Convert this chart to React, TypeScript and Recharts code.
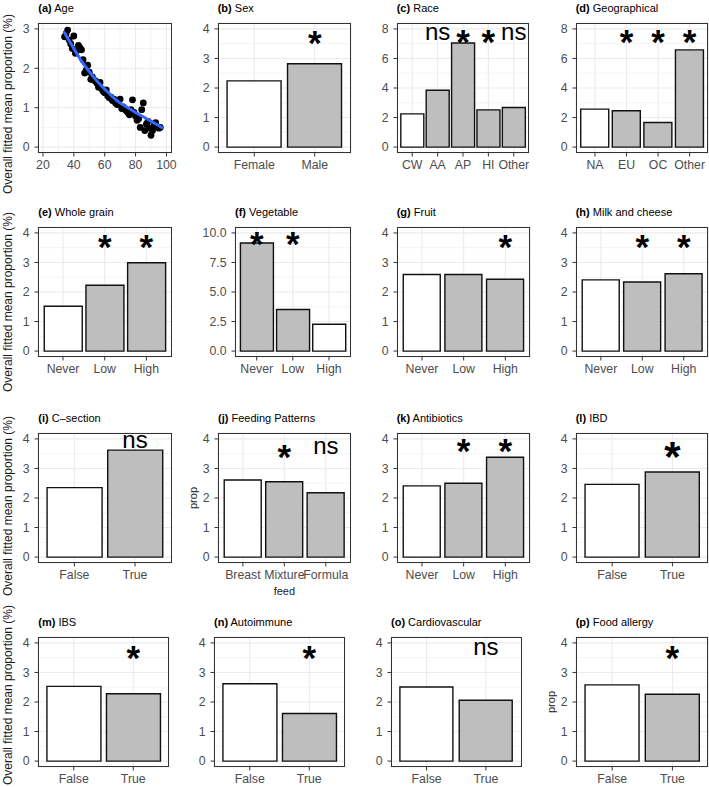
import React from "react";
import { ComposedChart, Bar, Cell, Line, Scatter, XAxis, YAxis, CartesianGrid } from "recharts";

const FONT = "'Liberation Sans', Arial, Helvetica, sans-serif";
const TICK = "#4D4D4D";
const GRID = "#EBEBEB";
const GREY = "#BEBEBE";

// (a) Age: mean proportion per age and the loess fit
const ageX = [34, 35, 36, 37, 38, 39, 40, 41, 42, 43, 44, 45, 46, 47, 48, 49, 50, 51, 52, 53, 54, 55, 56, 57, 58, 59, 60, 61, 62, 63, 64, 65, 66, 67, 68, 69, 70, 71, 72, 73, 74, 75, 76, 77, 78, 79, 80, 81, 82, 83, 84, 85, 86, 87, 88, 89, 90, 91, 92, 93, 94, 95, 96];
const ageProp = [2.8, 2.88, 2.97, 2.72, 2.62, 2.5, 2.82, 2.38, 2.45, 2.58, 2.52, 2.47, 2.22, 1.88, 1.95, 2.08, 1.9, 1.72, 1.78, 1.7, 1.68, 1.62, 1.52, 1.64, 1.48, 1.42, 1.38, 1.45, 1.3, 1.25, 1.27, 1.18, 1.22, 1.12, 1.08, 1.15, 1.22, 0.98, 1.02, 0.96, 0.92, 0.88, 0.82, 0.95, 1.2, 0.88, 0.78, 0.68, 0.72, 0.5, 0.95, 1.12, 0.42, 0.58, 0.65, 0.48, 0.3, 0.42, 0.55, 0.62, 0.52, 0.48, 0.5];
const fitAge = [34, 37, 40, 43, 45, 48, 50, 53, 55, 58, 60, 63, 65, 68, 70, 73, 75, 78, 80, 83, 85, 88, 90, 93, 95, 97];
const fitProp = [2.9, 2.7, 2.5, 2.31, 2.18, 2.02, 1.92, 1.77, 1.68, 1.55, 1.47, 1.36, 1.28, 1.18, 1.12, 1.05, 1.0, 0.93, 0.88, 0.81, 0.77, 0.7, 0.66, 0.59, 0.55, 0.5];

const sexCats = ["Female", "Male"];
const sexProp = [2.24, 2.82];
const sexSig = ["", "*"];

const raceCats = ["CW", "AA", "AP", "HI", "Other"];
const raceProp = [2.25, 3.85, 7.05, 2.52, 2.68];
const raceSig = ["", "ns", "*", "*", "ns"];

const geoCats = ["NA", "EU", "OC", "Other"];
const geoProp = [2.57, 2.46, 1.66, 6.58];
const geoSig = ["", "*", "*", "*"];

const freqCats = ["Never", "Low", "High"];
const grainProp = [1.52, 2.23, 2.99];
const grainSig = ["", "*", "*"];
const vegProp = [9.15, 3.52, 2.27];
const vegSig = ["*", "*", ""];
const fruitProp = [2.59, 2.59, 2.43];
const fruitSig = ["", "", "*"];
const milkProp = [2.41, 2.34, 2.62];
const milkSig = ["", "*", "*"];
const abxProp = [2.41, 2.5, 3.38];
const abxSig = ["", "*", "*"];

const feedCats = ["Breast", "Mixture", "Formula"];
const feedProp = [2.61, 2.55, 2.18];
const feedSig = ["", "*", "ns"];

const tfCats = ["False", "True"];
const csectionProp = [2.35, 3.62];
const csectionSig = ["", "ns"];
const ibdProp = [2.46, 2.88];
const ibdSig = ["", "*"];
const ibsProp = [2.53, 2.28];
const ibsSig = ["", "*"];
const autoProp = [2.62, 1.61];
const autoSig = ["", "*"];
const cardioProp = [2.51, 2.06];
const cardioSig = ["", "ns"];
const allergyProp = [2.58, 2.26];
const allergySig = ["", "*"];

const ticks4 = [0, 1, 2, 3, 4];
const minor4 = [0.5, 1.5, 2.5, 3.5];
const ticks8 = [0, 2, 4, 6, 8];
const minor8 = [1, 3, 5, 7];
const ticks10 = [0, 2.5, 5, 7.5, 10];
const minor10 = [1.25, 3.75, 6.25, 8.75];
const ageTicksX = [20, 40, 60, 80, 100];
const ageMinorX = [30, 50, 70, 90];
const ageTicksY = [0, 1, 2, 3];
const ageMinorY = [0.5, 1.5, 2.5];

const S4 = { domain: [-0.2, 4.2], ticks: ticks4, minor: minor4 };
const S8 = { domain: [-0.4, 8.4], ticks: ticks8, minor: minor8 };
const S10 = { domain: [-0.5, 10.5], ticks: ticks10, minor: minor10, fmt: (v: number) => v.toFixed(1) };

const panels = [
  { tag: "(b)", title: "Sex", frame: [217.7, 23, 133, 130], cats: sexCats, vals: sexProp, refCat: "Female", sig: sexSig, sigAt: 3.82, s: S4 },
  { tag: "(c)", title: "Race", frame: [396.7, 23, 132, 130], cats: raceCats, vals: raceProp, refCat: "CW", sig: raceSig, sigAt: 7.7, s: S8 },
  { tag: "(d)", title: "Geographical", frame: [575.7, 23, 132.6, 130], cats: geoCats, vals: geoProp, refCat: "NA", sig: geoSig, sigAt: 7.7, s: S8 },
  { tag: "(e)", title: "Whole grain", frame: [38.3, 227.3, 133.4, 130], cats: freqCats, vals: grainProp, refCat: "Never", sig: grainSig, sigAt: 3.83, s: S4 },
  { tag: "(f)", title: "Vegetable", frame: [235, 227.3, 115.7, 130], cats: freqCats, vals: vegProp, refCat: "High", sig: vegSig, sigAt: 9.8, s: S10 },
  { tag: "(g)", title: "Fruit", frame: [396.7, 227.3, 133.3, 130], cats: freqCats, vals: fruitProp, refCat: "Never", sig: fruitSig, sigAt: 3.83, s: S4 },
  { tag: "(h)", title: "Milk and cheese", frame: [575.7, 227.3, 132.6, 130], cats: freqCats, vals: milkProp, refCat: "Never", sig: milkSig, sigAt: 3.83, s: S4 },
  { tag: "(i)", title: "C\u2013section", frame: [38.3, 432.7, 133.4, 130], cats: tfCats, vals: csectionProp, refCat: "False", sig: csectionSig, sigAt: 3.91, s: S4 },
  { tag: "(j)", title: "Feeding Patterns", frame: [218, 432.7, 132.7, 130], cats: feedCats, vals: feedProp, refCat: "Breast", sig: feedSig, sigAt: 3.7, s: S4, yLab: "prop", xLab: "feed" },
  { tag: "(k)", title: "Antibiotics", frame: [396.7, 432.7, 133.3, 130], cats: freqCats, vals: abxProp, refCat: "Never", sig: abxSig, sigAt: 3.89, s: S4 },
  { tag: "(l)", title: "IBD", frame: [575.7, 432.7, 132.6, 130], cats: tfCats, vals: ibdProp, refCat: "False", sig: ibdSig, sigAt: 3.78, s: S4, star: 42 },
  { tag: "(m)", title: "IBS", frame: [38.3, 636.7, 131, 130], cats: tfCats, vals: ibsProp, refCat: "False", sig: ibsSig, sigAt: 3.8, s: S4 },
  { tag: "(n)", title: "Autoimmune", frame: [214, 636.7, 131, 130], cats: tfCats, vals: autoProp, refCat: "False", sig: autoSig, sigAt: 3.8, s: S4 },
  { tag: "(o)", title: "Cardiovascular", frame: [391, 636.7, 130.5, 130], cats: tfCats, vals: cardioProp, refCat: "False", sig: cardioSig, sigAt: 3.8, s: S4 },
  { tag: "(p)", title: "Food allergy", frame: [575.7, 636.7, 132.6, 130], cats: tfCats, vals: allergyProp, refCat: "False", sig: allergySig, sigAt: 3.78, s: S4, yLab: "prop" },
];

const rowTitleY = [104, 302, 506, 695];

const tickStyle = { fill: TICK, fontSize: 12.3, fontFamily: FONT };
const TOP = 18;

function Frame({ l, t, w, h }: any) {
  return (
    <div
      style={{
        position: "absolute",
        left: l,
        top: t,
        width: w,
        height: h,
        border: "1px solid #333",
        boxSizing: "border-box",
        pointerEvents: "none",
      }}
    />
  );
}

function Title({ l, t, tag, text }: any) {
  return (
    <div style={{ position: "absolute", left: l, top: t - 21, fontSize: 11, lineHeight: "12px", whiteSpace: "nowrap", color: "#000" }}>
      <b>{tag}</b> {text}
    </div>
  );
}

function VText({ cx, cy, text, size }: any) {
  return (
    <div
      style={{
        position: "absolute",
        left: cx - 110,
        top: cy - 8,
        width: 220,
        height: 16,
        lineHeight: "16px",
        textAlign: "center",
        fontSize: size,
        color: "#1a1a1a",
        transform: "rotate(-90deg)",
        whiteSpace: "nowrap",
      }}
    >
      {text}
    </div>
  );
}

function AgePanel() {
  const [l, t, w, h] = [38.3, 23, 133.4, 130];
  const pts = ageX.map((x, i) => ({ age: x, prop: ageProp[i] }));
  const fit = fitAge.map((x, i) => ({ age: x, prop: fitProp[i] }));
  return (
    <>
      <div style={{ position: "absolute", left: l - 40, top: t - TOP }}>
        <ComposedChart width={w + 45} height={h + TOP + 25} margin={{ top: TOP, right: 5, left: 0, bottom: 0 }}>
          <CartesianGrid horizontalValues={ageMinorY} verticalValues={ageMinorX} stroke={GRID} strokeWidth={0.6} />
          <CartesianGrid stroke={GRID} strokeWidth={1.1} />
          <XAxis
            dataKey="age"
            type="number"
            domain={[16.8, 103.2]}
            ticks={ageTicksX}
            allowDataOverflow
            height={25}
            axisLine={false}
            tickSize={3.5}
            tickMargin={4}
            tickLine={{ stroke: "#333" }}
            tick={tickStyle}
          />
          <YAxis
            type="number"
            domain={[-0.15, 3.15]}
            ticks={ageTicksY}
            allowDataOverflow
            width={40}
            axisLine={false}
            tickSize={3.5}
            tickMargin={5}
            tickLine={{ stroke: "#333" }}
            tick={tickStyle}
          />
          <Scatter
            data={pts}
            dataKey="prop"
            isAnimationActive={false}
            shape={(p: any) => <circle cx={p.cx} cy={p.cy} r={3.4} fill="#000" />}
          />
          <Scatter
            data={fit}
            dataKey="prop"
            isAnimationActive={false}
            zIndex={700}
            line={{ stroke: "#3366FF", strokeWidth: 3, strokeLinejoin: "round", strokeLinecap: "round" }}
            lineType="joint"
            shape={() => <g />}
          />
        </ComposedChart>
      </div>
      <Frame l={l} t={t} w={w} h={h} />
      <Title l={l} t={t} tag="(a)" text="Age" />
    </>
  );
}

function BarPanel({ p }: any) {
  const [l, t, w, h] = p.frame;
  const n = p.cats.length;
  const u = w / (n + 0.2);
  const star = p.star || 35;
  const rows = p.cats.map((c: string, i: number) => ({ cat: c, prop: p.vals[i], sig: p.sig[i], sigY: p.sigAt }));
  const sigDot = (d: any) => {
    const { cx, cy, payload, index } = d;
    const s = payload && payload.sig;
    if (!s || cx == null || cy == null) return <g key={`s${index}`} />;
    const isStar = s === "*";
    const fs = isStar ? star : 24;
    return (
      <text
        key={`s${index}`}
        x={cx}
        y={cy + (isStar ? 0.6 : 0.26) * fs}
        textAnchor="middle"
        fontSize={fs}
        fontWeight={isStar ? "bold" : "normal"}
        fontFamily={FONT}
        fill="#000"
      >
        {s}
      </text>
    );
  };
  return (
    <>
      <div style={{ position: "absolute", left: l - 40, top: t - TOP }}>
        <ComposedChart width={w + 45} height={h + TOP + 25} data={rows} margin={{ top: TOP, right: 5, left: 0, bottom: 0 }} barCategoryGap="5%">
          <CartesianGrid horizontalValues={p.s.minor} vertical={false} stroke={GRID} strokeWidth={0.6} />
          <CartesianGrid stroke={GRID} strokeWidth={1.1} />
          <XAxis
            dataKey="cat"
            type="category"
            height={25}
            interval={0}
            padding={{ left: 0.1 * u, right: 0.1 * u }}
            axisLine={false}
            tickSize={3.5}
            tickMargin={4}
            tickLine={{ stroke: "#333" }}
            tick={tickStyle}
          />
          <YAxis
            type="number"
            domain={p.s.domain}
            ticks={p.s.ticks}
            tickFormatter={p.s.fmt}
            allowDataOverflow
            width={40}
            axisLine={false}
            tickSize={3.5}
            tickMargin={5}
            tickLine={{ stroke: "#333" }}
            tick={tickStyle}
          />
          <Bar dataKey="prop" stroke="#111" strokeWidth={1.4} isAnimationActive={false}>
            {rows.map((r: any, i: number) => (
              <Cell key={i} fill={r.cat === p.refCat ? "#FFFFFF" : GREY} />
            ))}
          </Bar>
          <Line dataKey="sigY" stroke="none" strokeWidth={0} dot={sigDot} activeDot={false} isAnimationActive={false} />
        </ComposedChart>
      </div>
      <Frame l={l} t={t} w={w} h={h} />
      <Title l={l} t={t} tag={p.tag} text={p.title} />
      {p.yLab && <VText cx={l - 25} cy={t + h / 2} text={p.yLab} size={11} />}
      {p.xLab && (
        <div style={{ position: "absolute", left: l, width: w, top: t + h + 22, textAlign: "center", fontSize: 11, lineHeight: "12px", color: "#1a1a1a" }}>
          {p.xLab}
        </div>
      )}
    </>
  );
}

export default function App() {
  return (
    <div
      style={{
        position: "absolute",
        left: 0,
        top: 0,
        width: 709,
        height: 787,
        background: "#fff",
        fontFamily: FONT,
        overflow: "hidden",
      }}
    >
      {rowTitleY.map((cy, i) => (
        <VText key={i} cx={8} cy={cy} text="Overall fitted mean proportion (%)" size={12} />
      ))}
      <AgePanel />
      {panels.map((p, i) => (
        <BarPanel key={i} p={p} />
      ))}
    </div>
  );
}
